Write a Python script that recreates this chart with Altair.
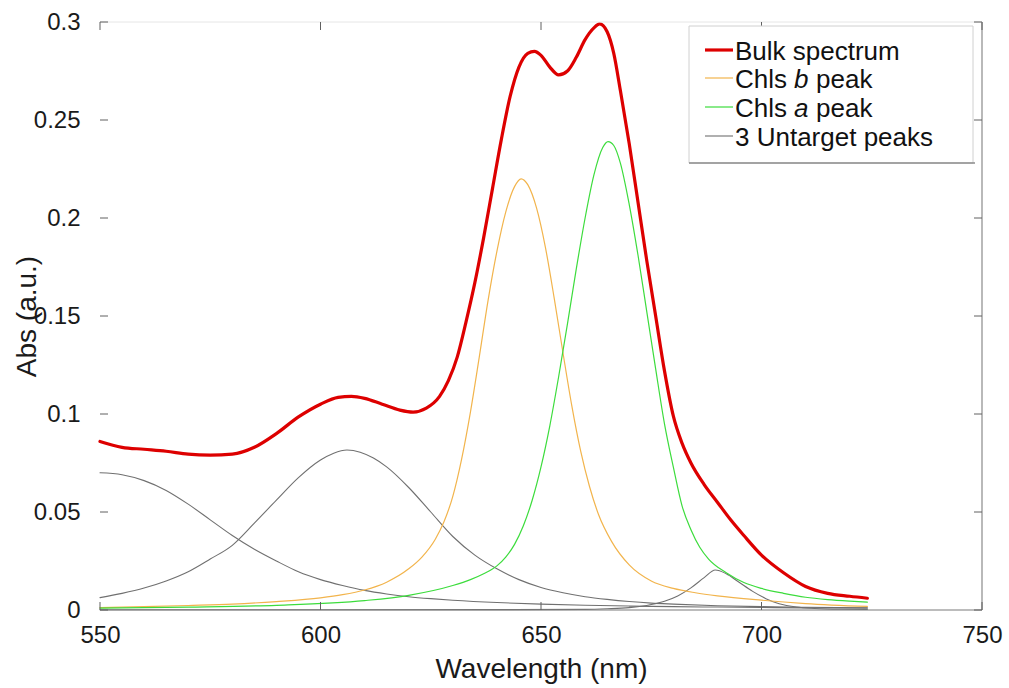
import altair as alt
import pandas as pd

# ---------------- data ----------------
bulk_wl = [550, 555, 560, 565, 570, 575, 580, 585, 590, 595,
           600, 604, 607, 610, 614, 618, 621, 624, 627, 629,
           631, 633, 635, 637, 639, 641, 643, 645, 647, 648.5,
           650, 652, 654, 656, 658, 660, 662, 663.3, 665, 666.5,
           668, 670, 672, 674, 676, 678, 680, 682, 684, 687,
           690, 693, 696, 700, 705, 710, 715, 720, 724]
bulk_abs = [0.086, 0.083, 0.082, 0.081, 0.0795, 0.079, 0.0795, 0.083, 0.090, 0.0985,
            0.105, 0.1085, 0.109, 0.108, 0.105, 0.102, 0.101, 0.103, 0.109, 0.117,
            0.129, 0.147, 0.167, 0.190, 0.215, 0.240, 0.262, 0.277, 0.284, 0.285,
            0.283, 0.277, 0.273, 0.275, 0.282, 0.291, 0.297, 0.299, 0.295, 0.284,
            0.265, 0.238, 0.208, 0.178, 0.150, 0.122, 0.099, 0.085, 0.075, 0.064,
            0.055, 0.046, 0.038, 0.028, 0.019, 0.012, 0.0085, 0.007, 0.006]

chlb_wl = [550, 560, 570, 580, 590, 600, 605, 610, 615, 620,
           623, 626, 628, 630, 632, 634, 636, 638, 640, 642,
           644, 645.5, 647, 649, 651, 653, 655, 657, 659, 661,
           663, 666, 670, 675, 680, 685, 690, 700, 710, 724]
chlb_abs = [0.0012, 0.0017, 0.0023, 0.003, 0.0043, 0.0062, 0.0078, 0.0102, 0.0142, 0.021,
            0.027, 0.036, 0.045, 0.058, 0.077, 0.101, 0.129, 0.158, 0.183, 0.203,
            0.216, 0.220, 0.217, 0.205, 0.185, 0.159, 0.131, 0.104, 0.081, 0.063,
            0.049, 0.035, 0.023, 0.0148, 0.011, 0.0088, 0.0072, 0.005, 0.0033, 0.0018]

chla_wl = [550, 570, 590, 610, 620, 630, 634, 637, 640, 642,
           644, 646, 648, 650, 652, 654, 656, 658, 660, 662,
           664, 665.2, 666.5, 668, 670, 672, 674, 676, 678, 680,
           682, 684, 686, 688, 692, 696, 700, 705, 710, 715,
           720, 724]
chla_abs = [0.001, 0.0015, 0.0024, 0.0048, 0.0075, 0.0125, 0.0155, 0.0185, 0.0225, 0.027,
            0.0335, 0.043, 0.056, 0.073, 0.094, 0.119, 0.146, 0.174, 0.200, 0.222,
            0.236, 0.239, 0.237, 0.228, 0.207, 0.181, 0.152, 0.123, 0.095, 0.073,
            0.053, 0.041, 0.032, 0.026, 0.019, 0.014, 0.011, 0.0085, 0.0065, 0.0053,
            0.0045, 0.004]

unt1_wl = [550, 555, 560, 565, 570, 575, 580, 585, 590, 595,
           600, 605, 610, 615, 620, 625, 630, 640, 650, 660,
           670, 680, 690, 700, 710, 724]
unt1_abs = [0.070, 0.069, 0.066, 0.061, 0.054, 0.046, 0.038, 0.031, 0.025, 0.0195,
            0.0155, 0.0125, 0.010, 0.0082, 0.0068, 0.0058, 0.005, 0.0038, 0.003, 0.0024,
            0.002, 0.0017, 0.0015, 0.0013, 0.0011, 0.001]

unt2_wl = [550, 555, 560, 565, 570, 575, 580, 585, 590, 595,
           600, 603, 606, 609, 612, 615, 620, 625, 630, 635,
           640, 645, 650, 655, 660, 665, 670, 675, 680, 690,
           700, 710, 724]
unt2_abs = [0.0063, 0.0085, 0.0112, 0.0148, 0.0195, 0.026, 0.033, 0.0443, 0.056, 0.0675,
            0.0765, 0.0800, 0.0816, 0.0805, 0.0775, 0.073, 0.0625, 0.050, 0.0375, 0.028,
            0.021, 0.0155, 0.0115, 0.0088, 0.0068, 0.0054, 0.0043, 0.0035, 0.003, 0.0022,
            0.0017, 0.0014, 0.0011]

unt3_wl = [550, 600, 640, 660, 665, 670, 675, 678, 681, 684,
           687, 689.5, 692, 695, 698, 701, 704, 708, 712, 718, 724]
unt3_abs = [0.0001, 0.0001, 0.0002, 0.0003, 0.0006, 0.0012, 0.0028, 0.0045, 0.0072, 0.0113,
            0.0165, 0.0204, 0.0185, 0.0140, 0.0095, 0.0058, 0.0032, 0.0015, 0.0008, 0.0004,
            0.0003]

x_ticks = [550, 600, 650, 700, 750]
y_ticks = [0, 0.05, 0.1, 0.15, 0.2, 0.25, 0.3]

legend_labels = ["Bulk spectrum", "Chls", "b", "peak", "Chls", "a", "peak", "3 Untarget peaks"]

# ---------------- build tables ----------------
bulk_df = pd.DataFrame({"wl": bulk_wl, "ab": bulk_abs})
chlb_df = pd.DataFrame({"wl": chlb_wl, "ab": chlb_abs})
chla_df = pd.DataFrame({"wl": chla_wl, "ab": chla_abs})
unt_df = pd.concat([
    pd.DataFrame({"wl": unt1_wl, "ab": unt1_abs, "peak": "p1"}),
    pd.DataFrame({"wl": unt2_wl, "ab": unt2_abs, "peak": "p2"}),
    pd.DataFrame({"wl": unt3_wl, "ab": unt3_abs, "peak": "p3"}),
], ignore_index=True)
xt_df = pd.DataFrame({"wl": x_ticks})
yt_df = pd.DataFrame({"ab": y_ticks})
one = pd.DataFrame({"k": [0]})

FONT = "Liberation Sans"
W, H = 882, 588
RED, ORANGE, GREEN, GRAY = "#dd0000", "#f2b44c", "#3cdc3c", "#707070"

x_scale = alt.Scale(domain=[550, 750], nice=False, zero=False)
y_scale = alt.Scale(domain=[0, 0.3], nice=False, zero=False)

x_axis = alt.Axis(values=x_ticks, format="d", title="Wavelength (nm)", domain=False,
                  ticks=False, tickSize=0, grid=False, labelPadding=13, labelFlush=False,
                  titleY=67, titleBaseline="alphabetic")
y_axis = alt.Axis(values=y_ticks, format="~g", title="Abs (a.u.)", domain=False,
                  ticks=False, tickSize=0, grid=False, labelPadding=20, labelFlush=False,
                  titleX=-65, titleY=294, titleAngle=270, titleBaseline="alphabetic",
                  titleAlign="center")

X = alt.X("wl:Q", scale=x_scale, axis=x_axis)
Y = alt.Y("ab:Q", scale=y_scale, axis=y_axis)


def line(df, color, width, **enc):
    return alt.Chart(df).mark_line(color=color, strokeWidth=width, interpolate="monotone",
                                   strokeCap="round", strokeJoin="round").encode(x=X, y=Y, **enc)


unt_layer = line(unt_df, GRAY, 1.1, detail="peak:N")
chlb_layer = line(chlb_df, ORANGE, 1.2)
chla_layer = line(chla_df, GREEN, 1.2)
bulk_layer = line(bulk_df, RED, 3.2)

# frame lines
TICK_C = "#606060"
frame = [
    alt.Chart(one).mark_rule(color="#7a7a7a", strokeWidth=1.2).encode(
        x=alt.value(0), x2=alt.value(W), y=alt.value(H)),
    alt.Chart(one).mark_rule(color="#8a8a8a", strokeWidth=1.2).encode(
        x=alt.value(W), y=alt.value(0), y2=alt.value(H)),
    alt.Chart(one).mark_rule(color="#e6e6e6", strokeWidth=1).encode(
        x=alt.value(0), x2=alt.value(W), y=alt.value(0)),
]

# inward ticks (same scales/axes as the data layers so axes merge)
TL = 8
ticks = [
    alt.Chart(xt_df).mark_rule(color=TICK_C, strokeWidth=1).encode(x=X, y=alt.value(H), y2=alt.value(H - TL)),
    alt.Chart(xt_df).mark_rule(color=TICK_C, strokeWidth=1).encode(x=X, y=alt.value(0), y2=alt.value(TL)),
    alt.Chart(yt_df).mark_rule(color=TICK_C, strokeWidth=1).encode(y=Y, x=alt.value(0), x2=alt.value(TL)),
    alt.Chart(yt_df).mark_rule(color=TICK_C, strokeWidth=1).encode(y=Y, x=alt.value(W), x2=alt.value(W - TL)),
]

# legend
LX0, LX1, LY0, LY1 = 589, 873, 4, 141
legend = [
    alt.Chart(one).mark_rect(fill="white", stroke="#d0d0d0", strokeWidth=1).encode(
        x=alt.value(LX0), x2=alt.value(LX1), y=alt.value(LY0), y2=alt.value(LY1)),
    alt.Chart(one).mark_rule(color="#8c8c8c", strokeWidth=1.5).encode(
        x=alt.value(LX0), x2=alt.value(LX1 + 2), y=alt.value(LY1)),
]
rows_y = [28, 56, 85, 114]
base_y = [38, 66, 95, 124]
sym_colors = [RED, ORANGE, GREEN, GRAY]
sym_widths = [3.2, 1.2, 1.2, 1.1]
for ry, c, w in zip(rows_y, sym_colors, sym_widths):
    legend.append(alt.Chart(one).mark_rule(color=c, strokeWidth=w).encode(
        x=alt.value(605), x2=alt.value(633), y=alt.value(ry)))


def ltext(txt, x, y, italic=False):
    return alt.Chart(one).mark_text(font=FONT, fontSize=26, align="left", baseline="alphabetic",
                                    color="#111111",
                                    fontStyle="italic" if italic else "normal").encode(
        x=alt.value(x), y=alt.value(y), text=alt.value(txt))


TX = 635
legend += [
    ltext(legend_labels[0], TX, base_y[0]),
    ltext(legend_labels[1], TX, base_y[1]),
    ltext(legend_labels[2], TX + 59, base_y[1], italic=True),
    ltext(legend_labels[3], TX + 81, base_y[1]),
    ltext(legend_labels[4], TX, base_y[2]),
    ltext(legend_labels[5], TX + 59, base_y[2], italic=True),
    ltext(legend_labels[6], TX + 81, base_y[2]),
    ltext(legend_labels[7], TX, base_y[3]),
]

chart = alt.layer(
    unt_layer, chlb_layer, chla_layer, bulk_layer, *frame, *ticks, *legend
).properties(
    width=W, height=H,
    padding={"left": 100, "top": 22, "right": 27, "bottom": 78},
    autosize=alt.AutoSizeParams(type="none"),
    background="white",
).configure_view(stroke=None).configure_axis(
    labelFont=FONT, titleFont=FONT, labelFontSize=24, titleFontSize=28,
    labelColor="#1a1a1a", titleColor="#1a1a1a", titleFontWeight="normal",
)

chart.save("out.html", embed_options={"renderer": "svg", "actions": False})
